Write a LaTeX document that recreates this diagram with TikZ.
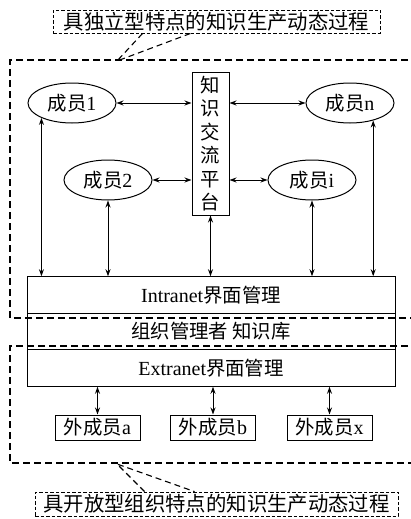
\documentclass[tikz,border=0pt]{standalone}
\usepackage{fontspec}
\setmainfont{Liberation Serif}
\newfontfamily\cjk{Noto Sans CJK SC}[Scale=0.97]
\usetikzlibrary{arrows.meta,shapes.geometric,calc}
\begin{document}
\begin{tikzpicture}[x=1pt,y=-1pt,
  every node/.style={font=\fontsize{20}{24}\selectfont},
  mem/.style={draw,ellipse,line width=1pt,minimum width=88pt,minimum height=40pt,inner sep=0pt},
  bar/.style={draw,line width=1pt,minimum width=368pt,minimum height=36.5pt,inner sep=0pt},
  ext/.style={draw,line width=1pt,minimum width=85pt,minimum height=25pt,inner sep=0pt},
  lab/.style={draw,dash pattern=on 3.5pt off 2pt,line width=0.8pt,inner sep=0pt,font=\fontsize{21}{24}\selectfont},
  region/.style={dash pattern=on 7pt off 4pt,line width=1.1pt},
  wedge/.style={dash pattern=on 6pt off 4pt,line width=1.1pt},
  link/.style={line width=1pt,{Stealth[length=7pt,width=5pt]}-{Stealth[length=7pt,width=5pt]}}
]
\clip (0,0) rectangle (411,519);
% regions
\draw[region] (430,60) -- (10,60) -- (10,318) -- (430,318);
\draw[region] (430,346) -- (10,346) -- (10,463) -- (430,463);
% labels
\node[lab,minimum width=327pt,minimum height=23pt] (toplab) at (216.5,21.5) {\cjk 具独立型特点的知识生产动态过程};
\node[lab,minimum width=363pt,minimum height=24pt] (botlab) at (216.5,504) {\cjk 具开放型组织特点的知识生产动态过程};
\coordinate (tipT) at (117,61);
\coordinate (tipB) at (117,464);
\draw[wedge] ($(toplab.south west)+(90,0)$) -- (tipT) -- ($(toplab.south west)+(138,0)$);
\draw[wedge] ($(botlab.north west)+(110,0)$) -- (tipB) -- ($(botlab.north west)+(160,0)$);
% platform
\node[draw,line width=1pt,minimum width=37pt,minimum height=143pt,inner sep=0pt,align=center,
  font=\fontsize{20}{23.5}\selectfont\cjk] (plat) at (210.5,143.5) {知\\识\\交\\流\\平\\台};
% members
\node[mem] (e1) at (72,103) {{\cjk 成员}1};
\node[mem] (en) at (350,103) {{\cjk 成员}n};
\node[mem] (e2) at (108,180) {{\cjk 成员}2};
\node[mem] (ei) at (312,180) {{\cjk 成员}i};
% bars
\node[bar] (intra) at (211,295) {Intranet{\cjk 界面管理}};
\node[bar] (mgr) at (211,331.5) {\cjk 组织管理者 知识库};
\node[bar] (extra) at (211,368) {Extranet{\cjk 界面管理}};
% external members
\node[ext] (xa) at (97.5,427.5) {{\cjk 外成员}a};
\node[ext] (xb) at (213,427.5) {{\cjk 外成员}b};
\node[ext] (xx) at (329.5,427.5) {{\cjk 外成员}x};
% horizontal links
\draw[link] (e1.east) -- (e1.east -| plat.west);
\draw[link] (en.west) -- (en.west -| plat.east);
\draw[link] (e2.east) -- (e2.east -| plat.west);
\draw[link] (ei.west) -- (ei.west -| plat.east);
% vertical links
\draw[link] (e1.206) -- (e1.206 |- intra.north);
\draw[link] (e2.south) -- (e2.south |- intra.north);
\draw[link] (plat.south) -- (plat.south |- intra.north);
\draw[link] (ei.south) -- (ei.south |- intra.north);
\draw[link] (en.323) -- (en.323 |- intra.north);
\draw[link] (xa.north |- extra.south) -- (xa.north);
\draw[link] (xb.north |- extra.south) -- (xb.north);
\draw[link] (xx.north |- extra.south) -- (xx.north);
\end{tikzpicture}
\end{document}
